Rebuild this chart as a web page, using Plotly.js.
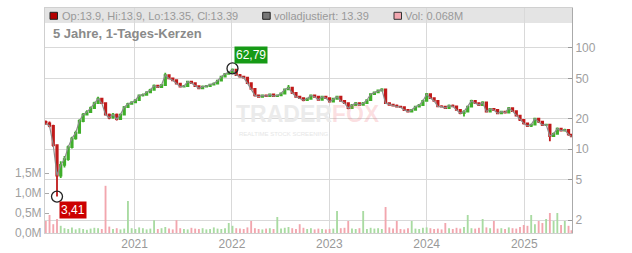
<!DOCTYPE html>
<html><head><meta charset="utf-8">
<script src="https://cdn.plot.ly/plotly-3.0.1.min.js"></script>
<style>html,body{margin:0;padding:0;background:#fff}#chart{width:632px;height:253px}</style>
</head><body><div id="chart"></div>
<script>
const dates = [
'2020-02-03','2020-02-17','2020-03-02','2020-03-16','2020-03-30','2020-04-13','2020-04-27','2020-05-11','2020-05-25','2020-06-08','2020-06-22','2020-07-06','2020-07-20','2020-08-03','2020-08-17','2020-08-31','2020-09-14','2020-09-28','2020-10-12','2020-10-26','2020-11-09','2020-11-23','2020-12-07','2020-12-21',
'2021-01-04','2021-01-18','2021-02-01','2021-02-15','2021-03-01','2021-03-15','2021-03-29','2021-04-12','2021-04-26','2021-05-10','2021-05-24','2021-06-07','2021-06-21','2021-07-05','2021-07-19','2021-08-02','2021-08-16','2021-08-30','2021-09-13','2021-09-27','2021-10-11','2021-10-25','2021-11-08','2021-11-22','2021-12-06','2021-12-20',
'2022-01-03','2022-01-17','2022-01-31','2022-02-14','2022-02-28','2022-03-14','2022-03-28','2022-04-11','2022-04-25','2022-05-09','2022-05-23','2022-06-06','2022-06-20','2022-07-04','2022-07-18','2022-08-01','2022-08-15','2022-08-29','2022-09-12','2022-09-26','2022-10-10','2022-10-24','2022-11-07','2022-11-21','2022-12-05','2022-12-19',
'2023-01-02','2023-01-16','2023-01-30','2023-02-13','2023-02-27','2023-03-13','2023-03-27','2023-04-10','2023-04-24','2023-05-08','2023-05-22','2023-06-05','2023-06-19','2023-07-03','2023-07-17','2023-07-31','2023-08-14','2023-08-28','2023-09-11','2023-09-25','2023-10-09','2023-10-23','2023-11-06','2023-11-20','2023-12-04','2023-12-18',
'2024-01-01','2024-01-15','2024-01-29','2024-02-12','2024-02-26','2024-03-11','2024-03-25','2024-04-08','2024-04-22','2024-05-06','2024-05-20','2024-06-03','2024-06-17','2024-07-01','2024-07-15','2024-07-29','2024-08-12','2024-08-26','2024-09-09','2024-09-23','2024-10-07','2024-10-21','2024-11-04','2024-11-18','2024-12-02','2024-12-16','2024-12-30',
'2025-01-13','2025-01-27','2025-02-10','2025-02-24','2025-03-10','2025-03-24','2025-04-07','2025-04-21','2025-05-05','2025-05-19','2025-06-02','2025-06-16','2025-06-27'];

const open = [
18.6,18.0,17.0,11.0,5.5,7.0,8.0,10.5,12.8,14.5,19.0,22.0,23.3,25.5,28.5,31.5,28.5,22.0,20.5,22.0,19.8,22.0,26.0,28.0,
29.0,30.5,34.0,34.4,36.5,38.5,42.5,41.0,43.0,54.0,50.0,48.0,44.5,41.5,42.0,46.5,45.0,42.0,40.0,41.5,42.0,43.5,44.5,47.5,52.0,55.5,
57.5,61.0,54.0,52.0,51.0,45.0,39.5,34.0,33.0,34.0,33.5,34.8,33.5,34.0,35.5,39.0,40.5,36.0,33.0,32.0,30.5,31.5,34.0,33.0,30.8,33.0,
32.0,29.5,31.5,33.0,30.0,28.5,25.5,27.3,28.5,27.5,28.5,30.5,35.0,36.5,38.0,39.0,28.5,27.5,27.0,26.3,26.0,24.4,23.5,24.5,26.3,27.3,
30.0,35.0,32.0,30.0,26.5,26.3,25.5,27.0,26.5,24.5,22.7,23.5,26.3,30.0,28.5,27.3,29.0,23.5,25.0,24.4,22.6,23.5,23.0,25.5,23.8,21.5,19.5,
18.0,17.0,17.5,20.0,18.7,17.4,17.5,13.5,14.2,16.0,15.3,15.5,13.9];

const high = [
19.2,18.8,17.5,11.2,7.6,8.6,10.9,13.3,15.2,19.8,22.8,24.2,26.4,29.4,33.0,32.0,29.0,22.6,22.8,22.5,22.6,26.8,28.8,29.8,
31.2,34.8,35.5,37.4,39.5,43.5,43.4,44.0,57.0,54.5,51.0,48.5,45.0,43.2,47.5,47.2,45.8,42.8,42.5,43.0,44.4,45.5,48.5,53.0,56.5,58.8,
62.79,61.5,55.2,53.0,51.8,45.8,40.2,34.8,34.8,34.6,35.6,35.4,34.8,36.4,39.8,43.0,41.0,36.6,33.8,32.6,32.3,34.8,34.6,33.8,33.8,33.6,
32.6,32.2,33.8,33.6,30.6,29.0,27.9,29.2,29.0,29.2,31.2,35.8,37.2,38.8,40.0,39.5,29.0,28.0,27.6,26.8,26.5,24.9,25.0,26.9,27.9,30.8,
36.0,35.5,32.6,30.4,27.2,26.9,27.6,27.6,27.0,25.0,24.2,26.9,30.8,30.5,28.9,29.8,29.3,25.6,25.4,24.8,24.0,23.9,26.2,25.9,24.2,21.9,19.9,
18.4,17.9,20.5,20.4,19.0,17.9,17.8,14.6,16.4,16.3,15.9,15.8,13.9];

const low = [
17.5,16.5,10.5,3.41,5.2,6.6,7.7,10.2,12.4,14.2,18.5,21.5,22.8,25.0,28.0,28.0,21.5,19.8,20.0,19.2,19.4,21.5,25.5,27.5,
28.4,30.0,33.2,33.8,35.8,37.8,40.2,40.4,42.2,49.0,47.0,43.6,40.8,40.8,41.2,44.2,41.2,39.2,39.2,40.8,41.4,42.8,43.8,46.8,51.0,54.5,
56.5,53.2,51.0,50.0,44.2,38.8,33.2,32.2,32.4,32.8,33.0,32.8,33.0,33.4,35.0,38.4,35.2,32.4,31.4,29.8,30.0,31.0,32.4,30.2,30.2,31.4,
29.0,29.0,31.0,29.4,27.9,24.8,25.0,26.8,27.0,27.0,28.0,30.0,34.4,36.0,37.4,28.0,27.0,26.5,25.8,25.5,24.0,23.0,23.0,24.0,25.8,26.8,
29.5,31.4,29.4,26.0,25.8,25.0,25.0,26.0,24.0,22.2,21.0,23.0,25.8,28.0,26.8,26.8,23.0,23.0,23.9,22.1,22.2,22.6,22.6,23.3,21.0,19.0,17.6,
16.6,16.6,17.2,18.2,17.0,17.0,12.0,13.2,13.9,15.0,15.0,13.6,13.35];

const close = [
18.0,17.0,11.0,5.5,7.0,8.0,10.5,12.8,14.5,19.0,22.0,23.3,25.5,28.5,31.5,28.5,22.0,20.5,22.0,19.8,22.0,26.0,28.0,29.0,
30.5,34.0,34.4,36.5,38.5,42.5,41.0,43.0,54.0,50.0,48.0,44.5,41.5,42.0,46.5,45.0,42.0,40.0,41.5,42.0,43.5,44.5,47.5,52.0,55.5,57.5,
61.0,54.0,52.0,51.0,45.0,39.5,34.0,33.0,34.0,33.5,34.8,33.5,34.0,35.5,39.0,40.5,36.0,33.0,32.0,30.5,31.5,34.0,33.0,30.8,33.0,32.0,
29.5,31.5,33.0,30.0,28.5,25.5,27.3,28.5,27.5,28.5,30.5,35.0,36.5,38.0,39.0,28.5,27.5,27.0,26.3,26.0,24.4,23.5,24.5,26.3,27.3,30.0,
35.0,32.0,30.0,26.5,26.3,25.5,27.0,26.5,24.5,22.7,23.5,26.3,30.0,28.5,27.3,29.0,23.5,25.0,24.4,22.6,23.5,23.0,25.5,23.8,21.5,19.5,18.0,
17.0,17.5,20.0,18.7,17.4,17.5,13.5,14.2,16.0,15.3,15.5,14.0,13.39];

const volume = [
0.30,0.45,0.22,0.35,0.18,0.12,0.10,0.14,0.09,0.12,0.10,0.08,0.11,0.13,0.12,0.10,1.18,0.16,0.10,0.12,0.09,0.11,0.80,0.12,
0.10,0.14,0.12,0.09,0.11,0.32,0.10,0.12,0.15,0.11,0.09,0.32,0.12,0.10,0.09,0.13,0.11,0.10,0.12,0.09,0.10,0.14,0.11,0.10,0.12,0.25,
0.18,0.12,0.11,0.10,0.14,0.30,0.12,0.10,0.09,0.11,0.12,0.10,0.40,0.11,0.13,0.15,0.12,0.10,0.22,0.13,0.10,0.12,0.09,0.11,0.10,0.09,
0.10,0.11,0.55,0.12,0.13,0.30,0.11,0.10,0.12,0.55,0.10,0.13,0.11,0.12,0.10,0.65,0.14,0.11,0.30,0.10,0.09,0.12,0.30,0.11,0.10,0.13,
0.14,0.12,0.10,0.11,0.09,0.25,0.12,0.10,0.13,0.11,0.15,0.45,0.12,0.11,0.13,0.35,0.14,0.12,0.30,0.11,0.12,0.10,0.14,0.12,0.11,0.15,0.20,
0.18,0.45,0.22,0.30,0.25,0.35,0.50,0.30,0.50,0.20,0.30,0.18,0.068];

const yearTicks = ['2021-01-01','2022-01-01','2023-01-01','2024-01-01','2025-01-01'];
const yearLabels = ['2021','2022','2023','2024','2025'];
const priceTicks = [2,5,10,20,50,100];
const volTicks = [0,0.5,1.0,1.5];
const volLabels = ['0,0M','0,5M','1,0M','1,5M'];
const extremes = {maxDate:'2022-01-03', maxVal:62.79, maxLabel:'62,79', minDate:'2020-03-16', minVal:3.41, minLabel:'3,41'};

const FONT = 'Liberation Sans, Arial, sans-serif';
const volColors = close.map((c,i)=> c >= open[i] ? '#a9dba2' : '#f2a6ae');

// pixel -> paper helpers (plot area 45..572 x 8..233)
const L=45, R=572, T=8, B=233;
const px = x => (x-L)/(R-L);
const py = y => (B-y)/(B-T);

const traces = [
  {type:'bar', x:dates, y:volume, marker:{color:volColors, line:{width:0}}, yaxis:'y', hoverinfo:'skip', width:1000*3600*24*7},
  {type:'scatter', mode:'lines', x:dates, y:close, yaxis:'y2', line:{color:'#8c8c8c', width:1.2}, hoverinfo:'skip'},
  {type:'candlestick', x:dates, open:open, high:high, low:low, close:close, yaxis:'y2',
   whiskerwidth:0,
   increasing:{line:{color:'#3fae2a', width:1.8}, fillcolor:'#3fae2a'},
   decreasing:{line:{color:'#c01a1a', width:1.8}, fillcolor:'#c01a1a'}},
  {type:'scatter', mode:'markers', x:[extremes.maxDate, extremes.minDate], y:[extremes.maxVal, extremes.minVal], yaxis:'y2',
   marker:{symbol:'circle-open', size:11, color:'#222', line:{width:1.3, color:'#222'}}, hoverinfo:'skip'}
];

const layout = {
  width:632, height:253,
  margin:{l:45, r:60, t:8, b:20, pad:0},
  paper_bgcolor:'#fff', plot_bgcolor:'#fff',
  showlegend:false, hovermode:false,
  font:{family:FONT, size:12, color:'#999'},
  xaxis:{type:'date', range:['2020-01-31','2025-06-29'], tickvals:yearTicks, ticktext:yearLabels,
         showgrid:true, gridcolor:'#d9d9d9', gridwidth:1, ticks:'', showline:true, mirror:true, linecolor:'#d0d0d0',
         tickfont:{family:FONT, size:12, color:'#999'}, rangeslider:{visible:false}, zeroline:false, fixedrange:true},
  yaxis:{range:[0,5.625], tickvals:volTicks, ticktext:volLabels, showgrid:false, zeroline:false,
         ticks:'inside', ticklen:4, tickcolor:'#aaa', showline:true, linecolor:'#cfcfcf',
         tickfont:{family:FONT, size:12, color:'#a0a0a0'}, fixedrange:true},
  yaxis2:{type:'log', overlaying:'y', side:'right', range:[Math.log10(1.49), Math.log10(248)],
          tickvals:priceTicks, ticktext:priceTicks.map(String), showgrid:true, gridcolor:'#d9d9d9', gridwidth:1,
          ticks:'inside', ticklen:4, tickcolor:'#999', showline:true, linecolor:'#aaa', zeroline:false,
          tickfont:{family:FONT, size:12, color:'#a0a0a0'}, fixedrange:true},
  shapes:[
    {type:'rect', xref:'paper', yref:'paper', x0:0, x1:1, y0:py(23), y1:1, fillcolor:'#e4e4e4', line:{width:0}, layer:'below'},
    {type:'rect', xref:'paper', yref:'paper', x0:px(50), x1:px(57.5), y0:py(19.3), y1:py(12.3), fillcolor:'#b40000', line:{color:'#222', width:1}},
    {type:'rect', xref:'paper', yref:'paper', x0:px(262.7), x1:px(270.2), y0:py(19.3), y1:py(12.3), fillcolor:'#777', line:{color:'#222', width:1}},
    {type:'rect', xref:'paper', yref:'paper', x0:px(394), x1:px(401.5), y0:py(19.3), y1:py(12.3), fillcolor:'#f2a7b0', line:{color:'#333', width:1}}
  ],
  annotations:[
    {xref:'paper', yref:'paper', x:px(60), y:py(15.8), xanchor:'left', yanchor:'middle', showarrow:false,
     text:'Op:13.9, Hi:13.9, Lo:13.35, Cl:13.39', font:{family:FONT, size:11, color:'#999'}},
    {xref:'paper', yref:'paper', x:px(272), y:py(15.8), xanchor:'left', yanchor:'middle', showarrow:false,
     text:'volladjustiert: 13.39', font:{family:FONT, size:11, color:'#999'}},
    {xref:'paper', yref:'paper', x:px(403), y:py(15.8), xanchor:'left', yanchor:'middle', showarrow:false,
     text:'Vol: 0.068M', font:{family:FONT, size:11, color:'#999'}},
    {xref:'paper', yref:'paper', x:px(51), y:py(33.5), xanchor:'left', yanchor:'middle', showarrow:false,
     text:'<b>5 Jahre, 1-Tages-Kerzen</b>', font:{family:FONT, size:13, color:'#8a8a8a'}},
    {xref:'paper', yref:'paper', x:px(308), y:py(114), xanchor:'center', yanchor:'middle', showarrow:false,
     text:'<b>TRADER<span style="color:rgba(240,110,120,0.22)">FOX</span></b>', font:{family:FONT, size:23, color:'#ebebeb'}},
    {xref:'paper', yref:'paper', x:px(283), y:py(134), xanchor:'center', yanchor:'middle', showarrow:false,
     text:'REALTIME STOCK SCREENING', font:{family:FONT, size:6, color:'#e6e6e6'}},
    {xref:'x', yref:'y2', x:extremes.maxDate, y:Math.log10(extremes.maxVal), xanchor:'left', yanchor:'bottom', showarrow:false,
     xshift:2, yshift:4, text:extremes.maxLabel, bgcolor:'#169a16', borderpad:1, font:{family:FONT, size:12, color:'#fff'}},
    {xref:'x', yref:'y2', x:extremes.minDate, y:Math.log10(extremes.minVal), xanchor:'left', yanchor:'top', showarrow:false,
     xshift:2, yshift:-4, text:extremes.minLabel, bgcolor:'#cc0000', borderpad:1, font:{family:FONT, size:12, color:'#fff'}}
  ]
};

Plotly.newPlot('chart', traces, layout, {displayModeBar:false, staticPlot:true});
</script>
</body></html>
